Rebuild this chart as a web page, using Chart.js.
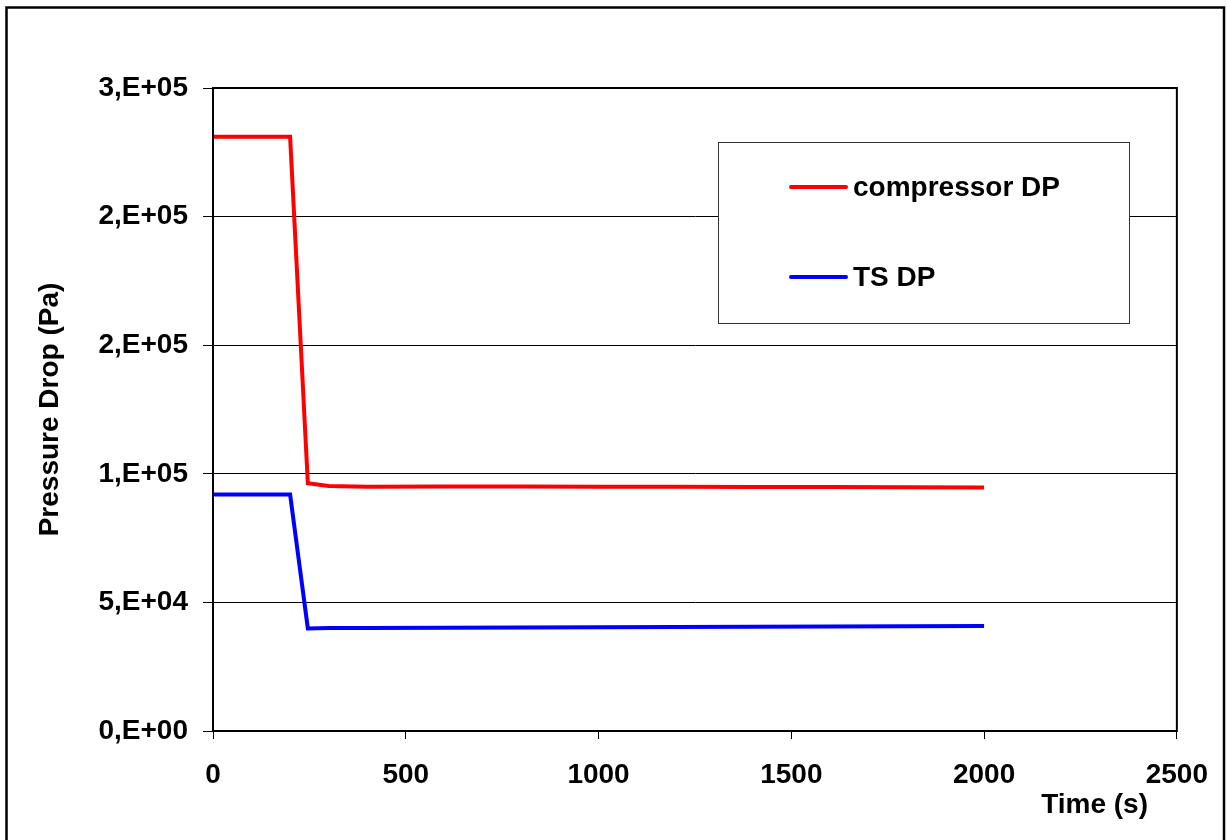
<!DOCTYPE html>
<html>
<head>
<meta charset="utf-8">
<script src="https://cdn.jsdelivr.net/npm/chart.js@4/dist/chart.umd.min.js"></script>
<style>
  html, body { margin: 0; padding: 0; background: #fff; }
</style>
</head>
<body>
<canvas id="dpChart" width="1227" height="840"></canvas>
<script>
// data
const timeS = [0, 200, 246, 300, 400, 600, 800, 1000, 1200, 1400, 1600, 1800, 2000];
const compressorDP = [231000, 231000, 96300, 95300, 95000, 95100, 95100, 95000, 95000, 94900, 94900, 94800, 94700];
const tsDP = [92000, 92000, 39900, 40000, 40000, 40100, 40200, 40300, 40400, 40500, 40600, 40700, 40800];
const yTickLabels = ['0,E+00', '5,E+04', '1,E+05', '2,E+05', '2,E+05', '3,E+05'];
const xTickLabels = ['0', '500', '1000', '1500', '2000', '2500'];
const seriesNames = ['compressor DP', 'TS DP'];

const FONT = 'Liberation Sans, Arial, sans-serif';

const framePlugin = {
    id: 'frame',
    afterDraw(chart) {
        const ctx = chart.ctx;
        const a = chart.chartArea;
        ctx.save();
        // plot box
        ctx.strokeStyle = '#000';
        ctx.lineWidth = 2;
        ctx.strokeRect(a.left, a.top, a.right - a.left, a.bottom - a.top);

        // legend box
        const lx = 718, ly = 142, lw = 411, lh = 181;
        ctx.fillStyle = '#fff';
        ctx.fillRect(lx, ly, lw, lh);
        ctx.strokeStyle = '#333';
        ctx.lineWidth = 1;
        ctx.strokeRect(lx + 0.5, ly + 0.5, lw, lh);
        const rows = [187, 277];
        chart.data.datasets.forEach((ds, i) => {
            ctx.strokeStyle = ds.borderColor;
            ctx.lineWidth = 4;
            ctx.lineCap = 'round';
            ctx.beginPath();
            ctx.moveTo(791, rows[i]);
            ctx.lineTo(846, rows[i]);
            ctx.stroke();
            ctx.fillStyle = '#000';
            ctx.font = 'bold 28px ' + FONT;
            ctx.textAlign = 'left';
            ctx.textBaseline = 'middle';
            ctx.fillText(ds.label, 853, rows[i] + 1);
        });

        // x axis title
        ctx.fillStyle = '#000';
        ctx.font = 'bold 28px ' + FONT;
        ctx.textAlign = 'right';
        ctx.textBaseline = 'middle';
        ctx.fillText('Time (s)', 1148, 805);

        // outer frame
        ctx.strokeStyle = '#000';
        ctx.lineWidth = 2.5;
        ctx.strokeRect(6.5, 7.5, 1217.5, 845);
        ctx.restore();
    }
};

const ctx = document.getElementById('dpChart').getContext('2d');
const dpChart = new Chart(ctx, {
    type: 'line',
    data: {
        datasets: [{
            label: seriesNames[0],
            data: timeS.map((t, i) => ({ x: t, y: compressorDP[i] })),
            borderColor: '#ff0000',
            borderWidth: 4,
            pointRadius: 0,
            fill: false,
            tension: 0
        }, {
            label: seriesNames[1],
            data: timeS.map((t, i) => ({ x: t, y: tsDP[i] })),
            borderColor: '#0000ff',
            borderWidth: 4,
            pointRadius: 0,
            fill: false,
            tension: 0
        }]
    },
    options: {
        responsive: false,
        animation: false,
        layout: { padding: { top: 88, right: 47, left: 0, bottom: 0 } },
        scales: {
            x: {
                type: 'linear',
                min: 0,
                max: 2500,
                ticks: {
                    stepSize: 500,
                    color: '#000',
                    padding: 19,
                    maxRotation: 0,
                    font: { family: FONT, size: 28, weight: 'bold' },
                    callback: (value, index) => xTickLabels[index]
                },
                grid: { drawOnChartArea: false, drawTicks: true, tickLength: 8, color: '#000' },
                border: { color: '#000', width: 2 },
                afterFit(scale) { scale.height = 109; }
            },
            y: {
                min: 0,
                max: 250000,
                ticks: {
                    stepSize: 50000,
                    color: '#000',
                    padding: 15,
                    font: { family: FONT, size: 28, weight: 'bold' },
                    callback: (value, index) => yTickLabels[index]
                },
                grid: { color: '#000', lineWidth: 1, tickLength: 10 },
                border: { color: '#000', width: 2 },
                title: {
                    display: true,
                    text: 'Pressure Drop (Pa)',
                    color: '#000',
                    padding: { top: 33, bottom: 0 },
                    font: { family: FONT, size: 28, weight: 'bold' }
                },
                afterFit(scale) { scale.width = 213; }
            }
        },
        plugins: {
            legend: { display: false },
            tooltip: { enabled: false }
        }
    },
    plugins: [framePlugin]
});
</script>
</body>
</html>
